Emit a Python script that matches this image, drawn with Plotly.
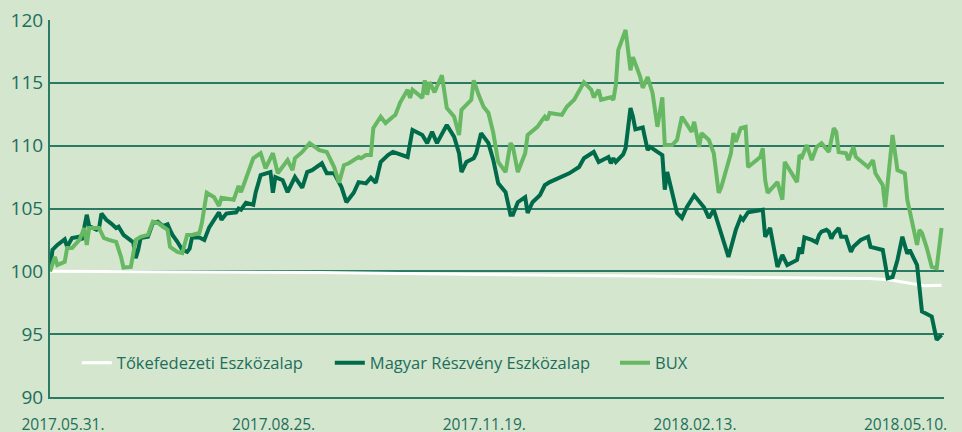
import plotly.graph_objects as go

# ---- data ----
tick_dates = ["2017-05-31", "2017-08-25", "2017-11-19", "2018-02-13", "2018-05-10"]
tick_labels = ["2017.05.31.", "2017.08.25.", "2017.11.19.", "2018.02.13.", "2018.05.10."]

tokefed_dates = ["2017-05-31", "2017-06-30", "2017-07-31", "2017-09-18", "2017-10-21", "2017-11-25",
                 "2017-12-25", "2018-01-27", "2018-03-01", "2018-03-13", "2018-04-02", "2018-04-22",
                 "2018-04-30", "2018-05-08", "2018-05-13", "2018-05-19", "2018-05-23", "2018-05-30"]
tokefed = [100.0, 99.98, 99.97, 99.9, 99.82, 99.72, 99.68, 99.62, 99.55, 99.5, 99.48, 99.47,
           99.42, 99.35, 99.2, 99.0, 98.85, 98.9]

magyar_dates = [
    "2017-05-31", "2017-06-01", "2017-06-03", "2017-06-06", "2017-06-07", "2017-06-09", "2017-06-12",
    "2017-06-13", "2017-06-15", "2017-06-16", "2017-06-19", "2017-06-20", "2017-06-21", "2017-06-23",
    "2017-06-25", "2017-06-27", "2017-06-28", "2017-06-30", "2017-07-02", "2017-07-04", "2017-07-05",
    "2017-07-06", "2017-07-07", "2017-07-10", "2017-07-12", "2017-07-14", "2017-07-16", "2017-07-18",
    "2017-07-19", "2017-07-20", "2017-07-22", "2017-07-24", "2017-07-26", "2017-07-27", "2017-07-28",
    "2017-07-31", "2017-08-02", "2017-08-04", "2017-08-08", "2017-08-09", "2017-08-11", "2017-08-15",
    "2017-08-16", "2017-08-17", "2017-08-19", "2017-08-22", "2017-08-23", "2017-08-25", "2017-08-29",
    "2017-08-30", "2017-08-31", "2017-09-03", "2017-09-05", "2017-09-08", "2017-09-11", "2017-09-13",
    "2017-09-15", "2017-09-19", "2017-09-21", "2017-09-24", "2017-09-27", "2017-09-29", "2017-10-02",
    "2017-10-04", "2017-10-07", "2017-10-09", "2017-10-11", "2017-10-13", "2017-10-16", "2017-10-18",
    "2017-10-24", "2017-10-26", "2017-10-30", "2017-11-01", "2017-11-03", "2017-11-05", "2017-11-09",
    "2017-11-12", "2017-11-14", "2017-11-15", "2017-11-17", "2017-11-20", "2017-11-21", "2017-11-23",
    "2017-11-26", "2017-11-28", "2017-11-30", "2017-12-03", "2017-12-05", "2017-12-06", "2017-12-08",
    "2017-12-11", "2017-12-12", "2017-12-14", "2017-12-17", "2017-12-19", "2017-12-21", "2017-12-26",
    "2017-12-29", "2018-01-02", "2018-01-04", "2018-01-08", "2018-01-10", "2018-01-14", "2018-01-15",
    "2018-01-16", "2018-01-17", "2018-01-20", "2018-01-21", "2018-01-23", "2018-01-24", "2018-01-25",
    "2018-01-27", "2018-01-28", "2018-01-30", "2018-01-31", "2018-02-03", "2018-02-05", "2018-02-06",
    "2018-02-07", "2018-02-11", "2018-02-13", "2018-02-15", "2018-02-18", "2018-02-22", "2018-02-24",
    "2018-02-26", "2018-03-01", "2018-03-04", "2018-03-07", "2018-03-09", "2018-03-10", "2018-03-12",
    "2018-03-18", "2018-03-19", "2018-03-21", "2018-03-24", "2018-03-26", "2018-03-28", "2018-04-01",
    "2018-04-02", "2018-04-03", "2018-04-04", "2018-04-07", "2018-04-09", "2018-04-10", "2018-04-11",
    "2018-04-13", "2018-04-14", "2018-04-15", "2018-04-16", "2018-04-18", "2018-04-19", "2018-04-21",
    "2018-04-23", "2018-04-24", "2018-04-27", "2018-04-30", "2018-05-01", "2018-05-06", "2018-05-08",
    "2018-05-10", "2018-05-12", "2018-05-14", "2018-05-16", "2018-05-17", "2018-05-20", "2018-05-22",
    "2018-05-26", "2018-05-28", "2018-05-30"]
magyar = [
    100.0, 101.7, 102.1, 102.55, 101.95, 102.65, 102.75,
    102.5, 104.5, 103.6, 103.3, 103.4, 104.6, 104.1,
    103.8, 103.45, 103.55, 102.9, 102.6, 102.3, 101.05,
    101.7, 102.65, 102.75, 103.85, 103.95, 103.6, 103.75,
    103.3, 102.9, 102.35, 101.7, 101.55, 101.8, 102.7,
    102.7, 102.5, 103.5, 104.7, 104.1, 104.6, 104.7,
    105.0, 104.9, 105.45, 105.3, 106.3, 107.65, 107.9,
    106.25, 107.5, 107.25, 106.3, 107.5, 106.65, 107.9,
    108.05, 108.6, 107.8, 107.8, 106.7, 105.5, 106.25,
    107.1, 107.0, 107.45, 107.05, 108.7, 109.25, 109.5,
    109.1, 111.25, 110.85, 110.2, 111.1, 110.2, 111.65,
    110.7, 109.4, 107.9, 108.7, 109.0, 109.4, 111.0,
    110.2, 108.85, 107.0, 106.3, 104.5, 104.5, 105.5,
    105.9, 104.65, 105.5, 106.05, 106.85, 107.1, 107.5,
    107.8, 108.3, 109.0, 109.5, 108.7, 109.1, 108.6,
    109.0, 108.7, 109.3, 109.8, 113.0, 112.3, 111.3,
    111.35, 111.45, 109.65, 109.9, 109.5, 109.25, 106.5,
    107.9, 104.65, 104.25, 105.1, 106.05, 105.1, 104.25,
    104.9, 103.05, 101.15, 103.3, 104.3, 104.1, 104.7,
    104.9, 102.75, 103.45, 100.35, 101.3, 100.5, 100.9,
    101.9, 101.4, 102.7, 102.5, 102.3, 102.9, 103.15,
    103.3, 103.15, 102.6, 103.0, 103.45, 102.75, 102.75,
    101.55, 101.95, 102.5, 102.75, 101.95, 101.7, 99.45,
    99.55, 100.9, 102.75, 101.4, 101.7, 100.5, 96.8,
    96.4, 94.55, 94.95]

bux_dates = [
    "2017-05-31", "2017-06-02", "2017-06-03", "2017-06-06", "2017-06-07", "2017-06-09", "2017-06-12",
    "2017-06-14", "2017-06-15", "2017-06-16", "2017-06-20", "2017-06-22", "2017-06-24", "2017-06-27",
    "2017-06-29", "2017-06-30", "2017-07-03", "2017-07-04", "2017-07-05", "2017-07-07", "2017-07-10",
    "2017-07-12", "2017-07-14", "2017-07-18", "2017-07-19", "2017-07-22", "2017-07-24", "2017-07-26",
    "2017-07-28", "2017-07-31", "2017-08-01", "2017-08-03", "2017-08-06", "2017-08-08", "2017-08-09",
    "2017-08-14", "2017-08-16", "2017-08-17", "2017-08-22", "2017-08-25", "2017-08-27", "2017-08-30",
    "2017-09-01", "2017-09-05", "2017-09-07", "2017-09-08", "2017-09-11", "2017-09-14", "2017-09-18",
    "2017-09-21", "2017-09-24", "2017-09-26", "2017-09-28", "2017-09-30", "2017-10-04", "2017-10-05",
    "2017-10-07", "2017-10-09", "2017-10-10", "2017-10-13", "2017-10-15", "2017-10-18", "2017-10-19",
    "2017-10-21", "2017-10-24", "2017-10-25", "2017-10-26", "2017-10-30", "2017-10-31", "2017-11-01",
    "2017-11-02", "2017-11-04", "2017-11-05", "2017-11-07", "2017-11-09", "2017-11-12", "2017-11-14",
    "2017-11-15", "2017-11-19", "2017-11-20", "2017-11-22", "2017-11-24", "2017-11-26", "2017-11-28",
    "2017-11-30", "2017-12-03", "2017-12-05", "2017-12-06", "2017-12-08", "2017-12-11", "2017-12-12",
    "2017-12-15", "2017-12-16", "2017-12-18", "2017-12-19", "2017-12-20", "2017-12-21", "2017-12-26",
    "2017-12-28", "2017-12-31", "2018-01-04", "2018-01-07", "2018-01-08", "2018-01-10", "2018-01-11",
    "2018-01-15", "2018-01-16", "2018-01-17", "2018-01-18", "2018-01-21", "2018-01-23", "2018-01-24",
    "2018-01-27", "2018-01-28", "2018-01-30", "2018-02-01", "2018-02-03", "2018-02-05", "2018-02-06",
    "2018-02-09", "2018-02-11", "2018-02-13", "2018-02-15", "2018-02-17", "2018-02-18", "2018-02-20",
    "2018-02-21", "2018-02-24", "2018-02-26", "2018-02-28", "2018-03-01", "2018-03-05", "2018-03-06",
    "2018-03-07", "2018-03-09", "2018-03-11", "2018-03-12", "2018-03-17", "2018-03-18", "2018-03-19",
    "2018-03-20", "2018-03-24", "2018-03-26", "2018-03-27", "2018-04-01", "2018-04-02", "2018-04-03",
    "2018-04-05", "2018-04-07", "2018-04-09", "2018-04-11", "2018-04-14", "2018-04-16", "2018-04-17",
    "2018-04-18", "2018-04-21", "2018-04-22", "2018-04-24", "2018-04-25", "2018-04-30", "2018-05-02",
    "2018-05-03", "2018-05-06", "2018-05-07", "2018-05-10", "2018-05-12", "2018-05-15", "2018-05-16",
    "2018-05-20", "2018-05-21", "2018-05-22", "2018-05-24", "2018-05-26", "2018-05-28", "2018-05-30"]
bux = [
    100.0, 101.15, 100.5, 100.75, 101.85, 101.85, 102.5,
    103.45, 102.1, 103.45, 103.45, 102.65, 102.5, 102.35,
    101.15, 100.3, 100.35, 101.5, 102.5, 102.75, 102.9,
    103.95, 103.85, 103.3, 101.95, 101.55, 101.45, 102.9,
    102.9, 103.05, 103.85, 106.25, 105.9, 105.2, 105.85,
    105.7, 106.8, 106.3, 109.0, 109.4, 108.2, 109.4,
    107.8, 108.85, 108.05, 109.0, 109.5, 110.2, 109.65,
    109.5, 108.3, 107.05, 108.45, 108.6, 109.1, 109.0,
    109.25, 109.25, 111.4, 112.3, 111.8, 112.3, 112.45,
    113.45, 114.45, 113.8, 114.45, 113.8, 115.2, 114.05,
    115.05, 114.25, 114.65, 115.6, 113.0, 112.3, 110.85,
    112.85, 113.65, 115.2, 114.05, 113.1, 112.6, 111.0,
    108.7, 107.9, 110.2, 109.9, 107.9, 109.4, 110.85,
    111.4, 111.5, 112.05, 112.3, 112.05, 112.6, 112.45,
    113.1, 113.65, 115.05, 114.45, 113.85, 114.45, 113.65,
    113.85, 113.65, 114.8, 117.6, 119.2, 116.0, 117.05,
    115.45, 114.6, 115.45, 114.2, 111.5, 113.85, 110.05,
    110.05, 110.45, 112.3, 111.65, 111.1, 111.9, 109.9,
    111.0, 110.45, 109.4, 106.25, 106.65, 109.4, 111.0,
    110.3, 111.4, 111.5, 108.3, 109.1, 109.8, 107.25,
    106.25, 107.1, 105.7, 108.7, 107.1, 109.25, 109.1,
    110.05, 108.85, 109.9, 110.2, 109.5, 111.4, 111.1,
    109.5, 109.4, 108.85, 109.9, 109.1, 108.3, 108.85,
    107.8, 106.85, 105.1, 110.85, 108.05, 107.8, 105.7,
    102.1, 103.3, 103.05, 101.85, 100.35, 100.25, 103.45]

series_names = ["Tőkefedezeti Eszközalap", "Magyar Részvény Eszközalap", "BUX"]
y_ticks = [90, 95, 100, 105, 110, 115, 120]

# ---- style ----
BG = "#d4e6cd"
TXT = "#1d6e5c"
GRID = "#2b7a64"
WHITE = "#ffffff"
DARK = "#006b4a"
LIGHT = "#66b863"
FONT = "Open Sans, Lato, sans-serif"

fig = go.Figure()
fig.add_trace(go.Scatter(x=tokefed_dates, y=tokefed, mode="lines", name=series_names[0],
                         line=dict(color=WHITE, width=3), legend="legend"))
fig.add_trace(go.Scatter(x=magyar_dates, y=magyar, mode="lines", name=series_names[1],
                         line=dict(color=DARK, width=4), legend="legend2"))
fig.add_trace(go.Scatter(x=bux_dates, y=bux, mode="lines", name=series_names[2],
                         line=dict(color=LIGHT, width=4), legend="legend3"))

leg_common = dict(orientation="h", yanchor="middle", y=0.09, xanchor="left",
                  bgcolor="rgba(0,0,0,0)", borderwidth=0,
                  font=dict(family=FONT, size=16.5, color=TXT))

fig.update_layout(
    width=962, height=432,
    margin=dict(l=50, r=18, t=20, b=35, autoexpand=False),
    paper_bgcolor=BG, plot_bgcolor=BG,
    font=dict(family=FONT, color=TXT),
    showlegend=True,
    legend=dict(x=0.030, **leg_common),
    legend2=dict(x=0.313, **leg_common),
    legend3=dict(x=0.632, **leg_common),
    xaxis=dict(
        type="date", range=["2017-05-31", "2018-05-31"],
        tickmode="array", tickvals=tick_dates, ticktext=tick_labels,
        showgrid=False, zeroline=False, automargin=False,
        showline=True, linecolor=GRID, linewidth=2,
        ticks="", ticklabelshift=13, ticklabelstandoff=12,
        tickfont=dict(family=FONT, size=15.5, color=TXT),
    ),
    yaxis=dict(
        range=[90, 120], tickmode="array", tickvals=y_ticks,
        showgrid=True, gridcolor=GRID, gridwidth=1.5, automargin=False,
        zeroline=False, showline=True, linecolor=GRID, linewidth=2,
        ticks="", ticklabelstandoff=1,
        tickfont=dict(family=FONT, size=19, color=TXT),
    ),
)

fig.write_html("out.html", config={"displayModeBar": False},
               post_script="document.body.style.margin='0';document.body.style.overflow='hidden';")
